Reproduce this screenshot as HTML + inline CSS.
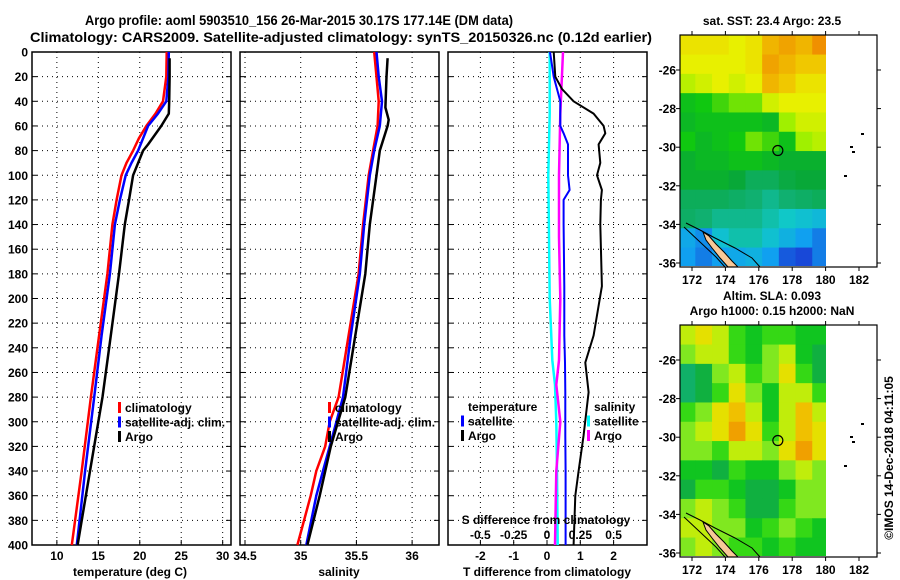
<!DOCTYPE html>
<html><head><meta charset="utf-8"><style>
html,body{margin:0;padding:0;background:#fff;}
svg{display:block;font-family:"Liberation Sans",Arial,sans-serif;font-weight:bold;}
</style></head><body>
<svg id="fig" width="900" height="580" viewBox="0 0 900 580" xmlns="http://www.w3.org/2000/svg"></svg>
<script>
// ---------- DATA ----------
const depthsT = [0,20,40,50,60,70,80,90,100,120,140,180,230,280,340,400];
const tempClim = [23.25,23.2,22.8,21.9,20.8,19.9,19.2,18.4,17.8,17.2,16.7,16.1,15.1,14.1,13.0,11.8];
const tempSat  = [23.5,23.45,23.2,22.2,21.0,20.4,19.8,19.0,18.3,17.6,17.0,16.4,15.4,14.5,13.4,12.4];
const depthsTA = [5,20,40,50,60,75,80,100,120,140,180,230,280,340,400];
const tempArgo = [23.6,23.6,23.55,23.5,22.6,21.0,20.4,19.2,18.7,18.2,17.5,16.5,15.5,14.0,12.5];
const depthsS = [0,20,40,60,80,100,140,180,230,280,300,320,340,360,400];
const salClim = [35.66,35.68,35.70,35.69,35.65,35.61,35.56,35.52,35.43,35.34,35.26,35.22,35.14,35.09,34.97];
const salSat  = [35.68,35.70,35.73,35.71,35.66,35.62,35.57,35.53,35.45,35.38,35.32,35.26,35.20,35.14,35.05];
const depthsSA = [5,20,45,55,60,80,100,140,180,230,280,320,360,400];
const salArgo = [35.78,35.77,35.76,35.79,35.78,35.71,35.68,35.62,35.58,35.49,35.40,35.27,35.17,35.06];
const depthsD = [0,20,30,40,50,60,66,75,90,100,112,120,140,190,230,252,276,311,340,360,400];
const tdiffSat  = [0.09,0.2,0.3,0.4,0.4,0.4,0.5,0.63,0.63,0.63,0.68,0.5,0.5,0.52,0.52,0.54,0.55,0.55,0.56,0.56,0.56];
const tdiffArgo = [0.2,0.25,0.45,0.8,1.4,1.7,1.75,1.55,1.6,1.5,1.65,1.62,1.6,1.65,1.4,1.15,1.25,1.1,0.95,0.85,0.8];
const depthsSD = [0,50,100,150,200,250,270,300,340,400];
const sdiffSat  = [0.02,0.02,0.01,0.015,0.02,0.04,0.06,0.07,0.075,0.08];
const sdiffArgo = [0.12,0.1,0.09,0.09,0.1,0.09,0.07,0.1,0.07,0.06];
const depthTicks = [0,20,40,60,80,100,120,140,160,180,200,220,240,260,280,300,320,340,360,380,400];
const tempTicks = [10,15,20,25,30];
const salTicks = [34.5,35,35.5,36];
const tdTicks = [-2,-1,0,1,2];
const sdTicks = [-0.5,-0.25,0,0.25,0.5];
const sdTickLabels = ["-0.5","-0.25","0","0.25","0.5"];
const lonTicks = [172,174,176,178,180,182];
const latTicks = [-26,-28,-30,-32,-34,-36];
// SST grid: rows from -24.2 southward, 1 deg; cols from 171.2 eastward
const sstGrid = [
 [23.4,23.4,23.4,23.3,23.4,23.7,23.8,23.7,23.9],
 [23.3,23.3,23.3,23.3,23.4,23.8,23.7,23.6,23.6],
 [23.1,23.2,23.3,23.2,23.3,23.7,23.6,23.4,23.4],
 [22.6,22.7,22.8,22.9,22.9,23.2,23.3,23.3,23.3],
 [22.5,22.6,22.6,22.6,22.6,22.5,23.0,23.2,23.2],
 [22.7,22.5,22.6,22.7,22.9,22.8,22.6,23.0,23.1],
 [22.4,22.5,22.5,22.6,22.6,22.5,22.4,22.4,22.4],
 [22.4,22.4,22.4,22.3,22.0,22.0,22.2,22.3,22.3],
 [22.0,22.0,22.0,21.9,21.8,21.7,21.8,21.9,22.0],
 [21.9,21.8,21.7,21.7,21.7,21.6,21.5,21.4,21.3],
 [21.1,20.9,21.4,21.6,21.6,21.4,21.2,21.0,20.8],
 [21.0,20.8,21.0,21.1,21.2,21.0,20.6,20.5,20.8]
];
const slaGrid = [
 [6,7,6,4,3,4,4,3,3],
 [5,6,6,4,3,5,6,3,2],
 [1,2,5,6,4,5,7,4,2],
 [1,2,4,7,5,3,6,6,4],
 [4,5,7,8,6,3,6,8,6],
 [5,6,7,9,7,4,6,8,7],
 [5,5,4,6,6,5,7,9,7],
 [3,3,2,4,3,3,5,6,5],
 [2,4,4,3,2,2,3,5,5],
 [5,6,5,4,2,2,4,5,5],
 [6,6,5,5,3,4,5,4,3],
 [5,6,5,4,4,3,4,3,3]
];
const argoLon = 177.14, argoLat = -30.17;

// ---------- HELPERS ----------
const NS = "http://www.w3.org/2000/svg";
const svg = document.getElementById("fig");
function el(tag, attrs, parent){ const e=document.createElementNS(NS,tag); for(const k in attrs) e.setAttribute(k,attrs[k]); (parent||svg).appendChild(e); return e; }
function txt(s,x,y,anchor,parent,size){ const t=el("text",{x:x,y:y,"text-anchor":anchor||"middle","font-size":size||12,fill:"#000"},parent); t.textContent=s; return t; }
const Y = d => 52 + d*1.2325;
const TX = t => 32 + (t-7)*8.29;
const SX = s => 240 + (s-34.455)*111.4;
const DX = v => 547 + 33.3*v;
const SDX = s => 547 + 133.3*s;

function panel(x0,name,xticks,xf){
  const g = el("g",{});
  
  
  depthTicks.forEach(d=>{ if(d>0&&d<400){ const l=el("line",{x1:x0,x2:x0+199,y1:Y(d),y2:Y(d),stroke:"#000","stroke-dasharray":"1,4","stroke-width":1},g);
     
    el("line",{x1:x0,x2:x0+5,y1:Y(d),y2:Y(d),stroke:"#000"},g); el("line",{x1:x0+194,x2:x0+199,y1:Y(d),y2:Y(d),stroke:"#000"},g);} });
  xticks.forEach(v=>{ const x=xf(v); if(x>x0+1&&x<x0+198){ const l=el("line",{x1:x,x2:x,y1:52,y2:545,stroke:"#000","stroke-dasharray":"1,4"},g);
     
    el("line",{x1:x,x2:x,y1:545,y2:540,stroke:"#000"},g);} });
  const r=el("rect",{x:x0,y:52,width:199,height:493,fill:"none",stroke:"#000","stroke-width":1.5},g);
   
  return g;
}
function series(ds,vs,xf,color,w,name,parent){
  const p = ds.map((d,i)=>xf(vs[i]).toFixed(1)+","+Y(d).toFixed(1)).join(" ");
  const l = el("polyline",{points:p,fill:"none",stroke:color,"stroke-width":w,"stroke-linejoin":"round"},parent);
  
  
}
function legend(x,y,items,parent){
  items.forEach((it,i)=>{ const yy=y+i*14.5;
    if(it[1]){ const m=el("rect",{x:x,y:yy-10,width:3,height:11,fill:it[1]},parent);
        }
    const t=txt(it[0],x+7,yy,"start",parent);
      });
}

// ---------- TITLES ----------
const t1=txt("Argo profile: aoml 5903510_156 26-Mar-2015 30.17S 177.14E (DM data)",299,25,"middle",svg,13.5);
t1.setAttribute("textLength","428"); t1.setAttribute("lengthAdjust","spacingAndGlyphs");
 
const t2=txt("Climatology: CARS2009. Satellite-adjusted climatology: synTS_20150326.nc (0.12d earlier)",341,42,"middle",svg,13.5);
t2.setAttribute("textLength","622"); t2.setAttribute("lengthAdjust","spacingAndGlyphs");
 

// depth labels
depthTicks.forEach(d=>{ const t=txt(String(d),28,Y(d)+4.5,"end");
    });

// ---------- PANEL 1 temperature ----------
const p1=panel(32,"temperature-panel",tempTicks,TX);
series(depthsT,tempClim,TX,"#f00",2.5,"temp-climatology-line",p1);
series(depthsT,tempSat,TX,"#00f",2.5,"temp-satellite-line",p1);
series(depthsTA,tempArgo,TX,"#000",2.5,"temp-argo-line",p1);
tempTicks.forEach(v=>{const t=txt(String(v),TX(v),560);  });
const a1=txt("temperature (deg C)",130,576);  
legend(118,412,[["climatology","#f00"],["satellite-adj. clim.","#00f"],["Argo","#000"]],p1);

// ---------- PANEL 2 salinity ----------
const p2=panel(240,"salinity-panel",salTicks,SX);
series(depthsS,salClim,SX,"#f00",2.5,"sal-climatology-line",p2);
series(depthsS,salSat,SX,"#00f",2.5,"sal-satellite-line",p2);
series(depthsSA,salArgo,SX,"#000",2.5,"sal-argo-line",p2);
salTicks.forEach(v=>{const t=txt(String(v),SX(v),560);  });
const a2=txt("salinity",339,576);  
legend(328,412,[["climatology","#f00"],["satellite-adj. clim.","#00f"],["Argo","#000"]],p2);

// ---------- PANEL 3 differences ----------
const p3=panel(448,"difference-panel",tdTicks,DX);
series(depthsSD,sdiffSat,SDX,"#0ff",2.5,"sdiff-satellite-line",p3);
series(depthsSD,sdiffArgo,SDX,"#f0f",2.5,"sdiff-argo-line",p3);
series(depthsD,tdiffSat,DX,"#00f",2,"tdiff-satellite-line",p3);
series(depthsD,tdiffArgo,DX,"#000",2,"tdiff-argo-line",p3);
tdTicks.forEach(v=>{const t=txt(String(v),DX(v),560);  });
sdTicks.forEach((v,i)=>{const t=txt(sdTickLabels[i],SDX(v),539);  });
const s3=txt("S difference from climatology",546,524);  
const a3=txt("T difference from climatology",547,576);  
legend(461,411,[["temperature",null],["satellite","#00f"],["Argo","#000"]],p3);
legend(587,411,[["salinity",null],["satellite","#0ff"],["Argo","#f0f"]],p3);

// ---------- MAPS ----------
function lerpColor(stops,v){
  const hex = s => "#"+s;
  if(v<=stops[0][0]) return hex(stops[0][1]);
  for(let i=1;i<stops.length;i++){ if(v<=stops[i][0]){ const a=stops[i-1],b=stops[i],f=(v-a[0])/(b[0]-a[0]);
    const ca=a[1].match(/\w\w/g).map(h=>parseInt(h,16)), cb=b[1].match(/\w\w/g).map(h=>parseInt(h,16));
    return "#"+ca.map((c,k)=>Math.round(c+(cb[k]-c)*f).toString(16).padStart(2,"0")).join(""); } }
  return hex(stops[stops.length-1][1]);
}
const sstStops=[[20.5,"1848d8"],[21.0,"10a0f0"],[21.5,"10c8c8"],[21.8,"10b070"],[22.3,"08a838"],[22.7,"10c810"],[23.0,"a0f000"],[23.3,"e8f000"],[23.6,"f0c800"],[23.9,"f09000"]];
const slaStops=[[0,"10b090"],[2,"10b040"],[3.5,"10d010"],[5,"80e820"],[6.5,"e0f000"],[8,"f0c000"],[9,"f0a000"]];
const MX = lon => 692 + (lon-172)*16.7;
function map(oy,grid,stops,name,title1,title2){
  const MY = lat => oy + 70 + (-26-lat)*19.3;
  const g=el("g",{});  
  const cid="clip"+oy;
  const cp=el("clipPath",{id:cid},g); el("rect",{x:680,y:oy+35,width:146,height:231},cp);
  const cells=el("g",{"clip-path":"url(#"+cid+")"},g);
  grid.forEach((row,i)=>row.forEach((v,j)=>{
    const c=el("rect",{x:MX(171.2+j),y:MY(-24.2-i),width:17.2,height:19.8,fill:lerpColor(stops,v)},cells);
     
  }));
  const land=el("polygon",{points:`703,${oy+232} 709,${oy+236} 716,${oy+244} 724,${oy+252} 732,${oy+261} 738,${oy+267} 728,${oy+267} 720,${oy+258} 712,${oy+248} 706,${oy+240}`,fill:"#f8c898",stroke:"#000","stroke-width":1},g);
   
  el("polyline",{points:`686,${oy+223} 700,${oy+230} 715,${oy+238} 735,${oy+248} 752,${oy+258} 760,${oy+267}`,fill:"none",stroke:"#000","stroke-width":1},g);
  el("polyline",{points:`684,${oy+227} 700,${oy+242} 716,${oy+257} 725,${oy+267}`,fill:"none",stroke:"#000","stroke-width":1},g);
  [[861,133],[850,146],[852,151],[844,175]].forEach(p=>{
    const m=el("rect",{x:p[0],y:oy+p[1],width:3,height:2,fill:"#000"},g);
     });
  const c=el("circle",{cx:MX(argoLon),cy:MY(argoLat),r:5,fill:"none",stroke:"#000","stroke-width":1.2},g);
   
  const fr=el("rect",{x:680,y:oy+35,width:197,height:232,fill:"none",stroke:"#000","stroke-width":1.2},g);
   
  lonTicks.forEach(v=>{ el("line",{x1:MX(v),x2:MX(v),y1:oy+35,y2:oy+31,stroke:"#000"},g);
    el("line",{x1:MX(v),x2:MX(v),y1:oy+267,y2:oy+271,stroke:"#000"},g);
    const t=txt(String(v),MX(v),oy+284,"middle",g);  });
  latTicks.forEach(v=>{ el("line",{x1:676,x2:680,y1:MY(v),y2:MY(v),stroke:"#000"},g);
    el("line",{x1:877,x2:881,y1:MY(v),y2:MY(v),stroke:"#000"},g);
    const t=txt(String(v),676,MY(v)+4.5,"end",g);  });
  const a=txt(title1,772,oy+(title2?10:25),"middle",g);  
  if(title2){ const b=txt(title2,772,oy+25,"middle",g);   }
}
map(0,sstGrid,sstStops,"sst-map","sat. SST: 23.4 Argo: 23.5",null);
map(290,slaGrid,slaStops,"sla-map","Altim. SLA: 0.093","Argo h1000: 0.15 h2000: NaN");

const cr=txt("©IMOS 14-Dec-2018 04:11:05",0,0,"middle");
cr.setAttribute("transform","translate(893,458) rotate(-90)");


</script>
</body></html>
